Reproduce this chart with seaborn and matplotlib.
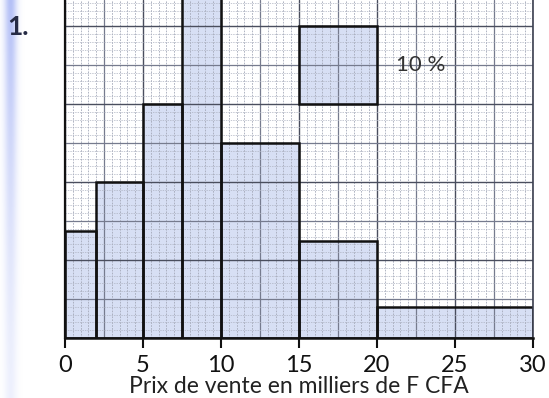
import numpy as np
import matplotlib
matplotlib.use("Agg")
import matplotlib.pyplot as plt
import seaborn as sns

# Class boundaries (thousands of F CFA) and share of sales per class (%)
edges = [0, 2, 5, 7.5, 10, 15, 20, 30]
percent = [5.5, 12, 15, 22, 25, 12.5, 8]
mids = [(a + b) / 2 for a, b in zip(edges[:-1], edges[1:])]

# Reference square for the area scale
legend_pct = 10
legend_x = 15
legend_w = 5
legend_label = "10 %"

xticks = [0, 5, 10, 15, 20, 25, 30]
xlabel = "Prix de vente en milliers de F CFA"

sns.set_theme(style="white")
plt.rcParams["font.family"] = ["Lato", "DejaVu Sans"]

fig = plt.figure(figsize=(5.49, 3.98), dpi=100)
fig.patch.set_facecolor("white")
ax = fig.add_axes([65 / 549, 60 / 398, 468 / 549, 338 / 398])
ax.set_facecolor("white")

ymax = 0.0867
ax.set_xlim(0, 30)
ax.set_ylim(0, ymax)

fill_col = "#b7c6ec"

# Filled bars (area = share of sales)
sns.histplot(x=mids, weights=percent, bins=edges, stat="density",
             color=fill_col, alpha=0.55, linewidth=0, ax=ax, zorder=1)

# Reference square
ax.bar(legend_x, legend_pct / 100 / legend_w, bottom=0.06, width=legend_w,
       align="edge", color=fill_col, alpha=0.55, linewidth=0, zorder=1)

# Millimetre paper
for x in np.arange(0, 30.01, 0.5):
    if abs(x % 5) < 1e-6:
        ax.axvline(x, color="#4a4e5e", lw=1.0, zorder=2)
    elif abs(x % 2.5) < 1e-6:
        ax.axvline(x, color="#767b8e", lw=0.9, zorder=2)
    else:
        ax.axvline(x, color="#a4a9b9", lw=0.6, ls=(0, (2, 1.5)), zorder=2)
for y in np.arange(0, ymax, 0.002):
    k = round(y / 0.002)
    if k % 10 == 0:
        ax.axhline(y, color="#4a4e5e", lw=1.0, zorder=2)
    elif k % 5 == 0:
        ax.axhline(y, color="#767b8e", lw=0.9, zorder=2)
    else:
        ax.axhline(y, color="#adb2c1", lw=0.5, ls=(0, (2, 1.5)), zorder=2)

# Bar outlines on top of the paper
sns.histplot(x=mids, weights=percent, bins=edges, stat="density",
             fill=False, color="#111111", linewidth=1.8, ax=ax, zorder=4)
ax.bar(legend_x, legend_pct / 100 / legend_w, bottom=0.06, width=legend_w,
       align="edge", fill=False, edgecolor="#111111", linewidth=1.8, zorder=4)
ax.text(22.8, 0.070, legend_label, fontsize=16, color="#333333",
        ha="center", va="center", zorder=5)

ax.set_xticks(xticks)
ax.set_xticklabels([str(t) for t in xticks])
ax.set_yticks([])
ax.set_ylabel("")
ax.set_xlabel(xlabel, fontsize=16.5, color="#222222", labelpad=0)
ax.tick_params(axis="x", direction="out", length=7, width=1.5, color="#111111",
               labelsize=17, labelcolor="#111111", pad=5, bottom=True)

ax.spines["top"].set_visible(False)
ax.spines["bottom"].set_color("#111111")
ax.spines["bottom"].set_linewidth(1.8)
ax.spines["left"].set_color("#111111")
ax.spines["left"].set_linewidth(1.6)
ax.spines["right"].set_color("#3c4050")
ax.spines["right"].set_linewidth(1.2)
for s in ax.spines.values():
    s.set_zorder(5)

# Exercise number
fig.text(7 / 549, 1 - 27 / 398, "1.", fontsize=19, fontweight="bold",
         color="#262b45", ha="left", va="center")

# Bluish tint along the left margin
strip = fig.add_axes([0, 0, 30 / 549, 1], zorder=-1)
h, w = 200, 30
xx = np.linspace(0, 1, w)[None, :]
yy = np.linspace(0, 1, h)[:, None]
prof = np.exp(-((xx - 0.35) / 0.22) ** 2)
a = prof * (0.15 + 0.5 * yy ** 1.5)
img = np.zeros((h, w, 4))
img[..., 0] = 0.55
img[..., 1] = 0.62
img[..., 2] = 0.95
img[..., 3] = a
strip.imshow(img, origin="lower", aspect="auto", extent=[0, 1, 0, 1])
strip.axis("off")

fig.savefig("out.png", dpi=100, facecolor="white")
